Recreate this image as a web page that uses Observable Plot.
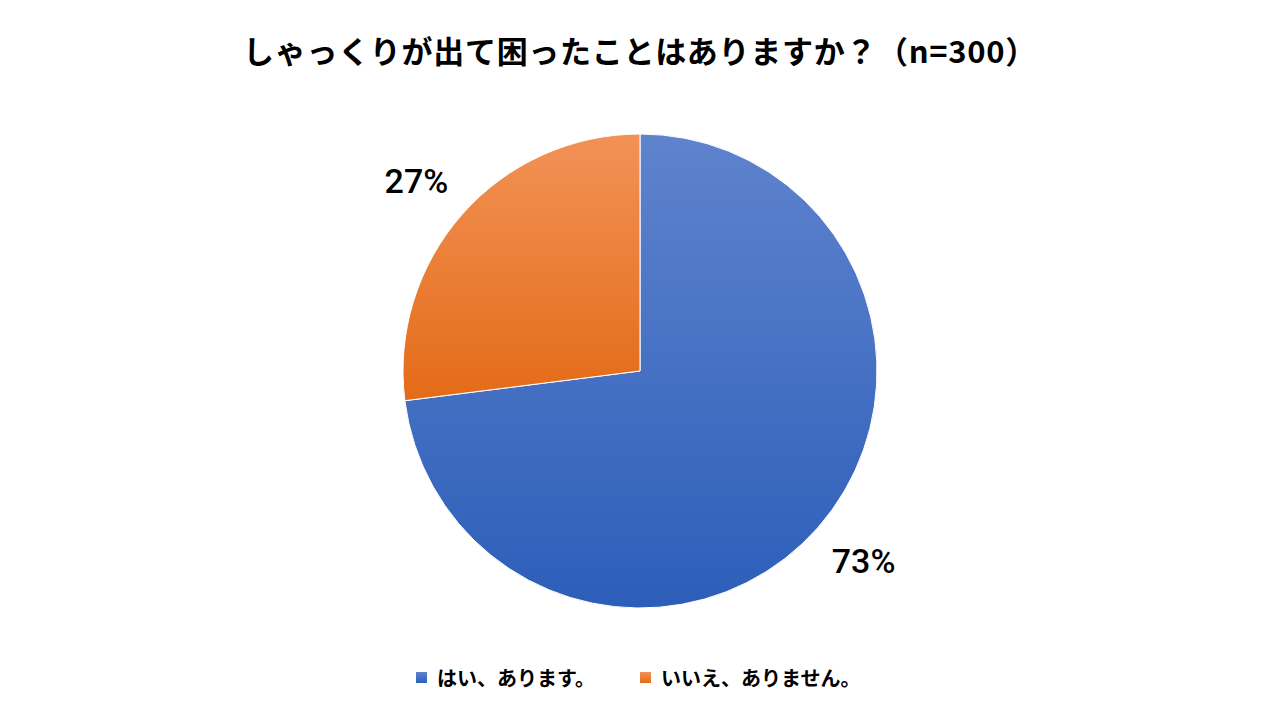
<!DOCTYPE html>
<html>
<head>
<meta charset="utf-8">
<script src="https://cdn.jsdelivr.net/npm/d3@7"></script>
<script src="https://cdn.jsdelivr.net/npm/@observablehq/plot@0.6"></script>
<style>
  html, body { margin: 0; padding: 0; background: #fff; }
  body { width: 1280px; height: 720px; overflow: hidden; font-family: "Noto Sans CJK JP", sans-serif; }
  #title { height: 100px; line-height: 100px; text-align: center; font-size: 31px; font-weight: 700; color: #000; letter-spacing: 0.7px; }
  #legend { position: absolute; top: 660px; left: 0; width: 1280px; height: 34px; }
  .item { position: absolute; top: 0; display: flex; align-items: center; height: 34px; font-size: 20px; font-weight: 700; color: #000; }
  .sw { width: 11px; height: 11px; margin-right: 10px; }
</style>
</head>
<body>
<div id="title">しゃっくりが出て困ったことはありますか？（n=300）</div>
<div id="chart"></div>
<div id="legend"></div>
<script>
const categories = ["はい、あります。", "いいえ、ありません。"];
const values = [73, 27];
const labels = ["73%", "27%"];
const gradTop = ["#5f83cd", "#f29257"];
const gradBottom = ["#2c5eb9", "#e46b17"];
const legendX = [416, 640];

const data = categories.map((c, i) => ({category: c, value: values[i], label: labels[i]}));

const W = 1280, H = 550;
const cx = 640, cy = 271, R = 237;

const pie = d3.pie().value(d => d.value).sort(null);
const arcs = pie(data);

function pieMark(index, scales, channels, dimensions, context) {
  const svg = d3.create("svg:g");
  const defs = svg.append("defs");
  arcs.forEach((a, i) => {
    const g = defs.append("linearGradient").attr("id", "grad" + i)
      .attr("x1", 0).attr("y1", 0).attr("x2", 0).attr("y2", 1);
    g.append("stop").attr("offset", "0%").attr("stop-color", gradTop[i]);
    g.append("stop").attr("offset", "100%").attr("stop-color", gradBottom[i]);
  });
  const arc = d3.arc().innerRadius(0).outerRadius(R);
  const rl = R * 1.237, rot = -1.1 * Math.PI / 180;
  const gp = svg.append("g").attr("transform", `translate(${cx},${cy})`);
  gp.selectAll("path").data(arcs).join("path")
    .attr("d", arc)
    .attr("fill", (d, i) => `url(#grad${i})`)
    .attr("stroke", "#fff")
    .attr("stroke-width", 1);
  gp.selectAll("text").data(arcs).join("text")
    .attr("transform", d => {
      const a = (d.startAngle + d.endAngle) / 2 + rot;
      return `translate(${rl * Math.sin(a)},${-rl * Math.cos(a)})`;
    })
    .attr("text-anchor", "middle")
    .attr("dy", "0.355em")
    .attr("font-family", "Roboto, 'Liberation Sans', Arial, sans-serif")
    .attr("font-size", 34)
    .attr("font-weight", 500)
    .attr("fill", "#000")
    .text(d => d.data.label);
  return svg.node();
}

const chart = Plot.plot({
  width: W,
  height: H,
  margin: 0,
  x: {axis: null},
  y: {axis: null},
  style: {background: "transparent", overflow: "visible"},
  marks: [pieMark]
});
document.getElementById("chart").appendChild(chart);

const legend = document.getElementById("legend");
categories.forEach((c, i) => {
  const item = document.createElement("div");
  item.className = "item";
  item.style.left = legendX[i] + "px";
  const sw = document.createElement("div");
  sw.className = "sw";
  sw.style.background = `linear-gradient(${gradTop[i]}, ${gradBottom[i]})`;
  const t = document.createElement("span");
  t.textContent = c;
  item.appendChild(sw);
  item.appendChild(t);
  legend.appendChild(item);
});
</script>
</body>
</html>
